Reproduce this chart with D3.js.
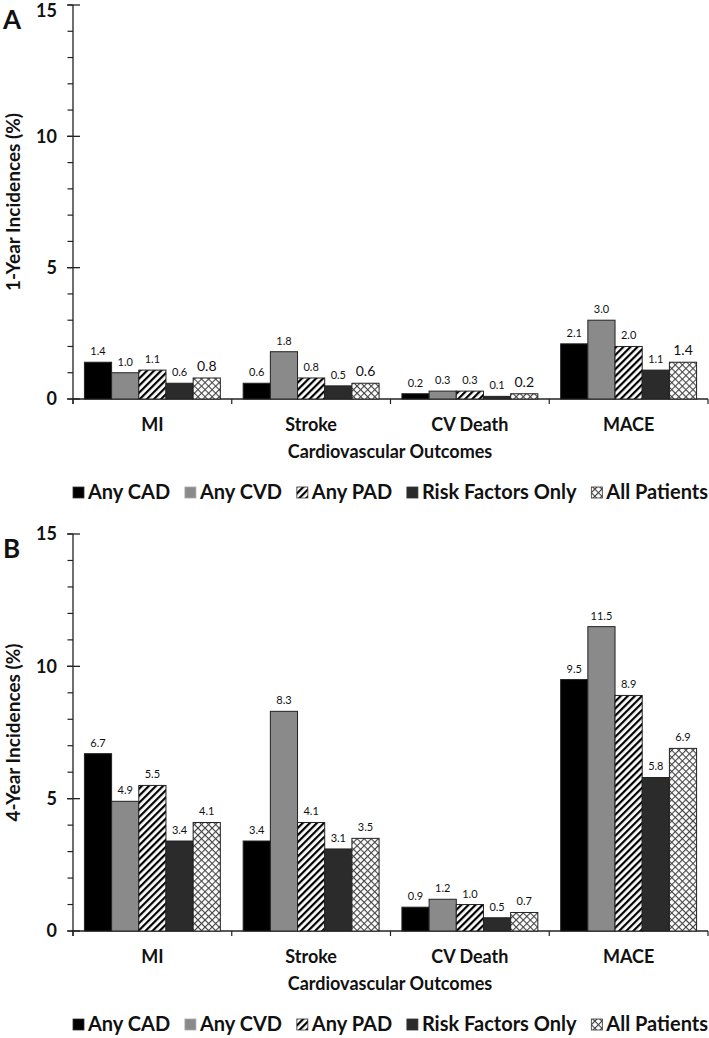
<!DOCTYPE html>
<html><head><meta charset="utf-8">
<script src="https://cdn.jsdelivr.net/npm/d3@7"></script>
<style>body{margin:0;background:#fff}svg{display:block}text{font-family:Lato,"Open Sans",sans-serif;font-weight:bold;fill:#111}</style>
</head><body>
<script>
const categories = ["MI", "Stroke", "CV Death", "MACE"];
const seriesNames = ["Any CAD", "Any CVD", "Any PAD", "Risk Factors Only", "All Patients"];
const yTicks = [0, 5, 10, 15];
// Panel A: 1-year incidences (%)
const oneYearCAD = [1.4, 0.6, 0.2, 2.1];
const oneYearCVD = [1.0, 1.8, 0.3, 3.0];
const oneYearPAD = [1.1, 0.8, 0.3, 2.0];
const oneYearRF  = [0.6, 0.5, 0.1, 1.1];
const oneYearAll = [0.8, 0.6, 0.2, 1.4];
// Panel B: 4-year incidences (%)
const fourYearCAD = [6.7, 3.4, 0.9, 9.5];
const fourYearCVD = [4.9, 8.3, 1.2, 11.5];
const fourYearPAD = [5.5, 4.1, 1.0, 8.9];
const fourYearRF  = [3.4, 3.1, 0.5, 5.8];
const fourYearAll = [4.1, 3.5, 0.7, 6.9];

const W = 709, H = 1038;
const svg = d3.select("body").append("svg").attr("width", W).attr("height", H);
const defs = svg.append("defs");
const hatch = defs.append("pattern").attr("id", "hatch").attr("patternUnits", "userSpaceOnUse")
  .attr("width", 5).attr("height", 5).attr("patternTransform", "rotate(45)");
hatch.append("rect").attr("width", 5).attr("height", 5).attr("fill", "#fff");
hatch.append("rect").attr("x", 0).attr("width", 2.2).attr("height", 5).attr("fill", "#000");
const cross = defs.append("pattern").attr("id", "cross").attr("patternUnits", "userSpaceOnUse")
  .attr("width", 5).attr("height", 5).attr("patternTransform", "rotate(45)");
cross.append("rect").attr("width", 5).attr("height", 5).attr("fill", "#fff");
cross.append("rect").attr("width", 1.1).attr("height", 5).attr("fill", "#444");
cross.append("rect").attr("width", 5).attr("height", 1.1).attr("fill", "#444");

const fills = ["#000000", "#8a8a8a", "url(#hatch)", "#2b2b2b", "url(#cross)"];
const color = d3.scaleOrdinal().domain(seriesNames).range(fills);

function drawPanel(p) {
  const x0 = d3.scaleBand().domain(categories).range([73, 708]).paddingInner(0).paddingOuter(0);
  const x1 = d3.scaleBand().domain(seriesNames).range([0, x0.bandwidth()]).paddingInner(0).paddingOuter(0.42);
  const y = d3.scaleLinear().domain([0, 15]).range([p.y0, p.y15]);
  const g = svg.append("g");

  g.append("text").attr("x", 3).attr("y", p.y15 + 24).attr("font-size", 26).text(p.letter);

  // y axis
  g.append("line").attr("x1", 73).attr("x2", 73).attr("y1", p.y15).attr("y2", p.y0 + 5).attr("stroke", "#222").attr("stroke-width", 1.3);
  g.selectAll(".minor").data(d3.range(0, 16)).enter().append("line")
    .attr("x1", 67.5).attr("x2", 73).attr("y1", d => y(d)).attr("y2", d => y(d)).attr("stroke", "#222").attr("stroke-width", 1.2);
  g.selectAll(".major").data(yTicks).enter().append("line")
    .attr("x1", 67).attr("x2", 80).attr("y1", d => y(d)).attr("y2", d => y(d)).attr("stroke", "#222").attr("stroke-width", 1.3);
  g.selectAll(".ylab").data(yTicks).enter().append("text")
    .attr("x", 57).attr("y", d => Math.max(y(d), 11)).attr("dy", "0.36em").attr("text-anchor", "end").attr("font-size", 18).text(d => d);
  g.append("text").attr("transform", `translate(20,${(p.y0 + p.y15) / 2}) rotate(-90)`)
    .attr("text-anchor", "middle").attr("font-size", 19).text(p.ytitle);

  // x axis
  g.append("line").attr("x1", 73).attr("x2", 708).attr("y1", p.y0).attr("y2", p.y0).attr("stroke", "#222").attr("stroke-width", 1.3);
  const bounds = categories.map(c => x0(c)).concat([708]);
  g.selectAll(".xt").data(bounds).enter().append("line")
    .attr("x1", d => d).attr("x2", d => d).attr("y1", p.y0).attr("y2", p.y0 + 5).attr("stroke", "#222").attr("stroke-width", 1.2);
  g.selectAll(".xlab").data(categories).enter().append("text")
    .attr("x", c => x0(c) + x0.bandwidth() / 2).attr("y", p.y0 + 32).attr("text-anchor", "middle").attr("font-size", 18).text(c => c);
  g.append("text").attr("x", 390).attr("y", p.y0 + 59).attr("text-anchor", "middle").attr("font-size", 18).text("Cardiovascular Outcomes");

  // bars
  const rows = [];
  seriesNames.forEach((s, si) => categories.forEach((c, ci) => rows.push({ s, c, v: p.series[si][ci], si })));
  g.selectAll(".bar").data(rows).enter().append("rect")
    .attr("x", d => x0(d.c) + x1(d.s)).attr("width", x1.bandwidth())
    .attr("y", d => y(d.v)).attr("height", d => p.y0 - y(d.v))
    .attr("fill", d => color(d.s)).attr("stroke", "#222").attr("stroke-width", 1);
  g.selectAll(".val").data(rows).enter().append("text")
    .attr("x", d => x0(d.c) + x1(d.s) + x1.bandwidth() / 2).attr("y", d => y(d.v) - 7)
    .attr("text-anchor", "middle").attr("font-size", d => (p.bigAll && d.si === 4) ? 14 : 11)
    .style("font-weight", "normal").attr("fill", "#222")
    .text(d => d.v.toFixed(1));

  // legend
  const lg = g.append("g").attr("transform", `translate(0,${p.legY})`);
  const items = lg.selectAll(".li").data(seriesNames).enter().append("g");
  items.append("rect").attr("x", 0).attr("y", -12).attr("width", 11).attr("height", 11)
    .attr("fill", d => color(d)).attr("stroke", d => d === "Any CVD" ? "#aaa" : "#333").attr("stroke-width", 0.8);
  let fs = 20, widths, gap;
  const texts = items.append("text").attr("x", 15).attr("y", 0).text(d => d);
  do {
    texts.attr("font-size", fs);
    widths = texts.nodes().map(n => 15 + n.getComputedTextLength());
    gap = (708 - p.legX - d3.sum(widths)) / (seriesNames.length - 1);
    fs -= 0.5;
  } while (gap < 7 && fs > 10);
  let cx = p.legX;
  items.attr("transform", (d, i) => { const t = `translate(${cx},0)`; cx += widths[i] + gap; return t; });
}

drawPanel({ letter: "A", y15: 5, y0: 399, ytitle: "1-Year Incidences (%)", legY: 499, legX: 73, bigAll: true,
  series: [oneYearCAD, oneYearCVD, oneYearPAD, oneYearRF, oneYearAll] });
drawPanel({ letter: "B", y15: 534, y0: 931, ytitle: "4-Year Incidences (%)", legY: 1031, legX: 73, bigAll: false,
  series: [fourYearCAD, fourYearCVD, fourYearPAD, fourYearRF, fourYearAll] });
</script>
</body></html>
